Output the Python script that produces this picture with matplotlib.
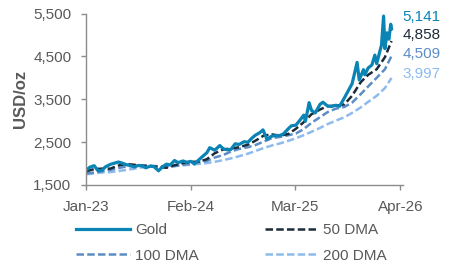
import matplotlib
matplotlib.use("Agg")
import matplotlib.pyplot as plt
import pandas as pd

plt.rcParams["font.family"] = ["Liberation Sans", "DejaVu Sans"]

GOLD_C = "#0A84B4"
DMA50_C = "#1C2B3A"
DMA100_C = "#5B8DC4"
DMA200_C = "#8DBBEE"
GREY = "#595959"
AXIS = "#8C8C8C"

# ── Data ─────────────────────────────────────────────────────────────────────
gold_dates = [
    "2023-01-03", "2023-01-16", "2023-02-01", "2023-02-15", "2023-03-01", "2023-03-15",
    "2023-04-03", "2023-04-14", "2023-05-03", "2023-05-15", "2023-06-01", "2023-06-15",
    "2023-07-03", "2023-07-17", "2023-08-01", "2023-08-15", "2023-09-01", "2023-09-15",
    "2023-10-02", "2023-10-16", "2023-11-01", "2023-11-15", "2023-12-01", "2023-12-15",
    "2024-01-02", "2024-01-16", "2024-02-01", "2024-02-14", "2024-03-01", "2024-03-15",
    "2024-04-01", "2024-04-12", "2024-05-01", "2024-05-20", "2024-06-03", "2024-06-17",
    "2024-07-01", "2024-07-17", "2024-08-01", "2024-08-20", "2024-09-03", "2024-09-16",
    "2024-10-01", "2024-10-18", "2024-10-30", "2024-11-14", "2024-12-02", "2024-12-16",
    "2025-01-02", "2025-01-15", "2025-02-03", "2025-02-14", "2025-03-03", "2025-03-17",
    "2025-04-02", "2025-04-08", "2025-04-22", "2025-05-01", "2025-05-15", "2025-06-02",
    "2025-06-13", "2025-07-01", "2025-07-15", "2025-08-01", "2025-08-15", "2025-09-02",
    "2025-09-16", "2025-10-01", "2025-10-08", "2025-10-20", "2025-10-28", "2025-11-13",
    "2025-11-18", "2025-12-01", "2025-12-15", "2025-12-26", "2026-01-02", "2026-01-14",
    "2026-01-20", "2026-01-28", "2026-02-02", "2026-02-10", "2026-02-17", "2026-02-24",
    "2026-02-27",
]
gold = [
    1850, 1915, 1950, 1835, 1835, 1920,
    1980, 2000, 2035, 2015, 1975, 1955,
    1920, 1955, 1945, 1900, 1940, 1925,
    1830, 1920, 1985, 1965, 2070, 2020,
    2060, 2030, 2050, 1990, 2080, 2160,
    2250, 2370, 2310, 2420, 2340, 2320,
    2330, 2460, 2445, 2510, 2495, 2580,
    2660, 2720, 2785, 2565, 2640, 2650,
    2655, 2690, 2815, 2880, 2895, 3000,
    3130, 2985, 3420, 3240, 3180, 3380,
    3430, 3340, 3330, 3360, 3335, 3530,
    3690, 3860, 4040, 4360, 3950, 4190,
    4070, 4230, 4300, 4530, 4330, 4620,
    4760, 5440, 4680, 5050, 4900, 5250,
    5141,
]

dma_dates = [
    "2023-01-03", "2023-02-01", "2023-03-01", "2023-04-03", "2023-05-01", "2023-06-01",
    "2023-07-03", "2023-08-01", "2023-09-01", "2023-10-02", "2023-11-01", "2023-12-01",
    "2024-01-02", "2024-02-01", "2024-03-01", "2024-04-01", "2024-05-01", "2024-06-03",
    "2024-07-01", "2024-08-01", "2024-09-03", "2024-10-01", "2024-11-01", "2024-12-02",
    "2025-01-02", "2025-02-03", "2025-03-03", "2025-04-01", "2025-05-01", "2025-06-02",
    "2025-07-01", "2025-08-01", "2025-09-02", "2025-10-01", "2025-11-03", "2025-12-01",
    "2026-01-02", "2026-02-02", "2026-02-27",
]
dma50 = [
    1820, 1870, 1880, 1880, 1950, 1990,
    1970, 1945, 1940, 1920, 1900, 1960,
    2010, 2040, 2040, 2100, 2240, 2330,
    2350, 2380, 2440, 2530, 2650, 2680,
    2650, 2690, 2810, 2960, 3150, 3260,
    3340, 3350, 3380, 3580, 3900, 4070,
    4200, 4480, 4858,
]
dma100 = [
    1770, 1790, 1820, 1850, 1890, 1930,
    1950, 1960, 1950, 1935, 1930, 1940,
    1970, 2000, 2030, 2060, 2140, 2200,
    2280, 2340, 2380, 2430, 2510, 2590,
    2620, 2660, 2700, 2800, 2950, 3080,
    3200, 3280, 3320, 3420, 3620, 3800,
    4000, 4200, 4509,
]
dma200 = [
    1750, 1770, 1790, 1800, 1820, 1850,
    1880, 1910, 1930, 1930, 1930, 1940,
    1960, 1970, 1990, 2010, 2040, 2080,
    2120, 2170, 2230, 2290, 2360, 2420,
    2470, 2530, 2590, 2660, 2740, 2830,
    2920, 3000, 3080, 3180, 3310, 3440,
    3580, 3760, 3997,
]

x_ticks = ["2023-01-01", "2024-02-01", "2025-03-01", "2026-04-01"]
x_ticklabels = ["Jan-23", "Feb-24", "Mar-25", "Apr-26"]
y_ticks = [1500, 2500, 3500, 4500, 5500]

end_labels = ["5,141", "4,858", "4,509", "3,997"]
end_label_y = [5410, 4990, 4550, 4080]

gd = pd.to_datetime(gold_dates)
dd = pd.to_datetime(dma_dates)

fig = plt.figure(figsize=(4.5, 2.7), dpi=100)
ax = fig.add_axes([0.191, 0.315, 0.705, 0.635])

ls = (0, (3.0, 1.3))
l200, = ax.plot(dd, dma200, color=DMA200_C, lw=1.8, ls=ls, label="200 DMA")
l100, = ax.plot(dd, dma100, color=DMA100_C, lw=1.8, ls=ls, label="100 DMA")
l50, = ax.plot(dd, dma50, color=DMA50_C, lw=1.8, ls=ls, label="50 DMA")
lg, = ax.plot(gd, gold, color=GOLD_C, lw=2.3, label="Gold")

ax.set_xlim(pd.Timestamp("2023-01-01"), pd.Timestamp("2026-04-12"))
ax.set_ylim(1500, 5500)
ax.set_xticks(pd.to_datetime(x_ticks))
ax.set_xticklabels(x_ticklabels)
ax.set_yticks(y_ticks)
ax.set_yticklabels([f"{v:,}" for v in y_ticks])

for s in ["top", "right"]:
    ax.spines[s].set_visible(False)
for s in ["left", "bottom"]:
    ax.spines[s].set_color(AXIS)
    ax.spines[s].set_linewidth(1.0)
ax.tick_params(axis="both", colors=AXIS, labelcolor=GREY, labelsize=11,
               length=3.5, width=1.0)
ax.tick_params(axis="x", pad=7)
ax.tick_params(axis="y", pad=7)
ax.set_ylabel("USD/oz", color=GREY, fontsize=12, fontweight="bold", labelpad=4)

for txt, yv, c in zip(end_labels, end_label_y, [GOLD_C, DMA50_C, DMA100_C, DMA200_C]):
    ax.text(0.998, yv, txt, transform=ax.get_yaxis_transform(), ha="left",
            va="center", fontsize=11, color=c)

leg = fig.legend([lg, l100, l50, l200], ["Gold", "100 DMA", "50 DMA", "200 DMA"],
                 ncol=2, loc="center", bbox_to_anchor=(0.515, 0.1), frameon=False,
                 fontsize=11, handlelength=3.5, columnspacing=4.3, handletextpad=0.35,
                 labelspacing=0.75)
for t in leg.get_texts():
    t.set_color(GREY)

fig.savefig("out.png", dpi=100)
